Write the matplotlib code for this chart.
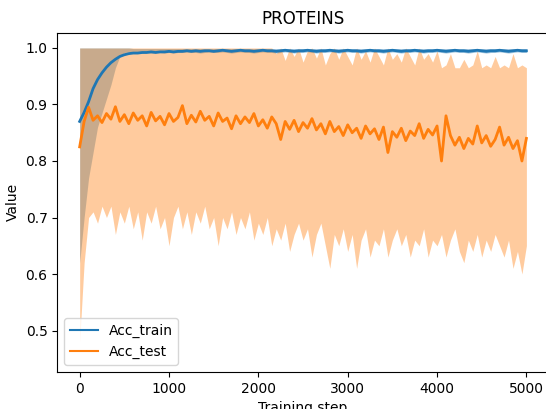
import matplotlib.pyplot as plt
import numpy as np

# values, one every 50 training steps
steps = np.arange(0, 5001, 50)

acc_train = [
    0.870, 0.886, 0.905, 0.928, 0.944, 0.956, 0.966, 0.974, 0.980, 0.985,
    0.988, 0.990, 0.991, 0.991, 0.992, 0.992, 0.993, 0.992, 0.993, 0.993,
    0.994, 0.993, 0.994, 0.994, 0.995, 0.994, 0.995, 0.994, 0.995, 0.995,
    0.994, 0.995, 0.996, 0.995, 0.994, 0.995, 0.996, 0.995, 0.995, 0.994,
    0.995, 0.996, 0.995, 0.995, 0.994, 0.995, 0.996, 0.995, 0.994, 0.995,
    0.995, 0.996, 0.995, 0.994, 0.995, 0.995, 0.996, 0.995, 0.994, 0.995,
    0.996, 0.995, 0.995, 0.994, 0.995, 0.996, 0.995, 0.995, 0.994, 0.995,
    0.996, 0.995, 0.994, 0.995, 0.995, 0.996, 0.995, 0.994, 0.995, 0.995,
    0.996, 0.995, 0.994, 0.995, 0.996, 0.995, 0.995, 0.994, 0.995, 0.996,
    0.995, 0.994, 0.995, 0.995, 0.996, 0.995, 0.994, 0.995, 0.996, 0.995,
    0.995,
]

train_low = [
    0.620, 0.700, 0.770, 0.815, 0.860, 0.885, 0.910, 0.935, 0.965, 0.985,
    0.992, 0.993, 0.993, 0.992, 0.991, 0.992, 0.991, 0.992, 0.992, 0.991,
    0.992, 0.991, 0.992, 0.992, 0.993, 0.992, 0.992, 0.991, 0.992, 0.993,
    0.992, 0.992, 0.993, 0.992, 0.991, 0.992, 0.993, 0.992, 0.992, 0.991,
    0.992, 0.993, 0.992, 0.992, 0.991, 0.992, 0.993, 0.992, 0.991, 0.992,
    0.992, 0.993, 0.992, 0.991, 0.992, 0.992, 0.993, 0.992, 0.991, 0.992,
    0.993, 0.992, 0.992, 0.991, 0.992, 0.993, 0.992, 0.992, 0.991, 0.992,
    0.993, 0.992, 0.991, 0.992, 0.992, 0.993, 0.992, 0.991, 0.992, 0.992,
    0.993, 0.992, 0.991, 0.992, 0.993, 0.992, 0.992, 0.991, 0.992, 0.993,
    0.992, 0.991, 0.992, 0.992, 0.993, 0.992, 0.991, 0.992, 0.993, 0.992,
    0.992,
]

train_high = [1.0] * 12 + [0.999] * 89

acc_test = [
    0.825, 0.870, 0.895, 0.872, 0.880, 0.868, 0.884, 0.874, 0.896, 0.870,
    0.882, 0.866, 0.885, 0.872, 0.880, 0.862, 0.886, 0.871, 0.879, 0.864,
    0.884, 0.870, 0.877, 0.898, 0.866, 0.881, 0.869, 0.888, 0.872, 0.879,
    0.862, 0.885, 0.870, 0.876, 0.857, 0.880, 0.866, 0.878, 0.868, 0.884,
    0.862, 0.873, 0.858, 0.878, 0.866, 0.838, 0.870, 0.856, 0.872, 0.852,
    0.868, 0.858, 0.875, 0.855, 0.866, 0.848, 0.870, 0.852, 0.861, 0.845,
    0.864, 0.850, 0.858, 0.840, 0.862, 0.848, 0.857, 0.838, 0.860, 0.815,
    0.852, 0.842, 0.858, 0.836, 0.853, 0.845, 0.866, 0.840, 0.856, 0.846,
    0.862, 0.800, 0.880, 0.845, 0.828, 0.842, 0.822, 0.840, 0.830, 0.862,
    0.832, 0.845, 0.826, 0.838, 0.860, 0.828, 0.842, 0.822, 0.836, 0.800,
    0.840,
]

test_low = [
    0.48, 0.62, 0.70, 0.71, 0.69, 0.72, 0.70, 0.72, 0.67, 0.71,
    0.69, 0.72, 0.68, 0.71, 0.66, 0.71, 0.69, 0.72, 0.68, 0.70,
    0.65, 0.70, 0.72, 0.68, 0.71, 0.67, 0.71, 0.69, 0.72, 0.68,
    0.70, 0.65, 0.70, 0.68, 0.71, 0.67, 0.70, 0.68, 0.71, 0.66,
    0.69, 0.67, 0.70, 0.65, 0.68, 0.66, 0.69, 0.64, 0.67, 0.69,
    0.66, 0.68, 0.63, 0.67, 0.69, 0.65, 0.61, 0.67, 0.65, 0.68,
    0.64, 0.67, 0.61, 0.66, 0.68, 0.63, 0.66, 0.65, 0.68, 0.63,
    0.66, 0.68, 0.65, 0.67, 0.63, 0.66, 0.65, 0.68, 0.63, 0.66,
    0.65, 0.67, 0.63, 0.66, 0.68, 0.64, 0.62, 0.66, 0.64, 0.67,
    0.63, 0.66, 0.64, 0.67, 0.65, 0.63, 0.66, 0.61, 0.64, 0.60,
    0.65,
]

test_high = [1.0] * 44 + [
    0.990, 1.000, 0.978, 1.000, 0.985, 1.000, 0.975, 0.995, 1.000, 0.982,
    1.000, 0.970, 0.990, 1.000, 0.980, 1.000, 0.985, 0.970, 1.000, 0.980,
    0.995, 0.975, 1.000, 0.985, 0.970, 1.000, 0.980, 0.990, 0.975, 1.000,
    0.985, 0.970, 1.000, 0.980, 0.990, 0.975, 0.995,
    0.965, 0.970, 0.990, 0.965, 0.965, 0.980, 0.965, 0.970, 0.995, 0.965,
    0.970, 0.965, 0.985, 0.965, 0.970, 0.965, 0.990, 0.965, 0.970, 0.965,
]

fig = plt.figure(figsize=(5.46, 4.09), dpi=100)
ax = fig.add_axes([0.105, 0.091, 0.9, 0.829])

ax.fill_between(steps, train_low, train_high, color="#1f77b4", alpha=0.4, linewidth=0)
ax.fill_between(steps, test_low, test_high, color="#ff7f0e", alpha=0.4, linewidth=0)
ax.plot(steps, acc_train, color="#1f77b4", linewidth=2, label="Acc_train")
ax.plot(steps, acc_test, color="#ff7f0e", linewidth=2, label="Acc_test")

ax.set_xlim(-250, 5250)
ax.set_ylim(0.427, 1.027)
ax.set_xlabel("Training step")
ax.set_ylabel("Value")
ax.set_title("PROTEINS")
leg = ax.legend(loc="lower left")
for line in leg.get_lines():
    line.set_linewidth(1.5)

fig.savefig("out.png", dpi=100)
plt.close(fig)
